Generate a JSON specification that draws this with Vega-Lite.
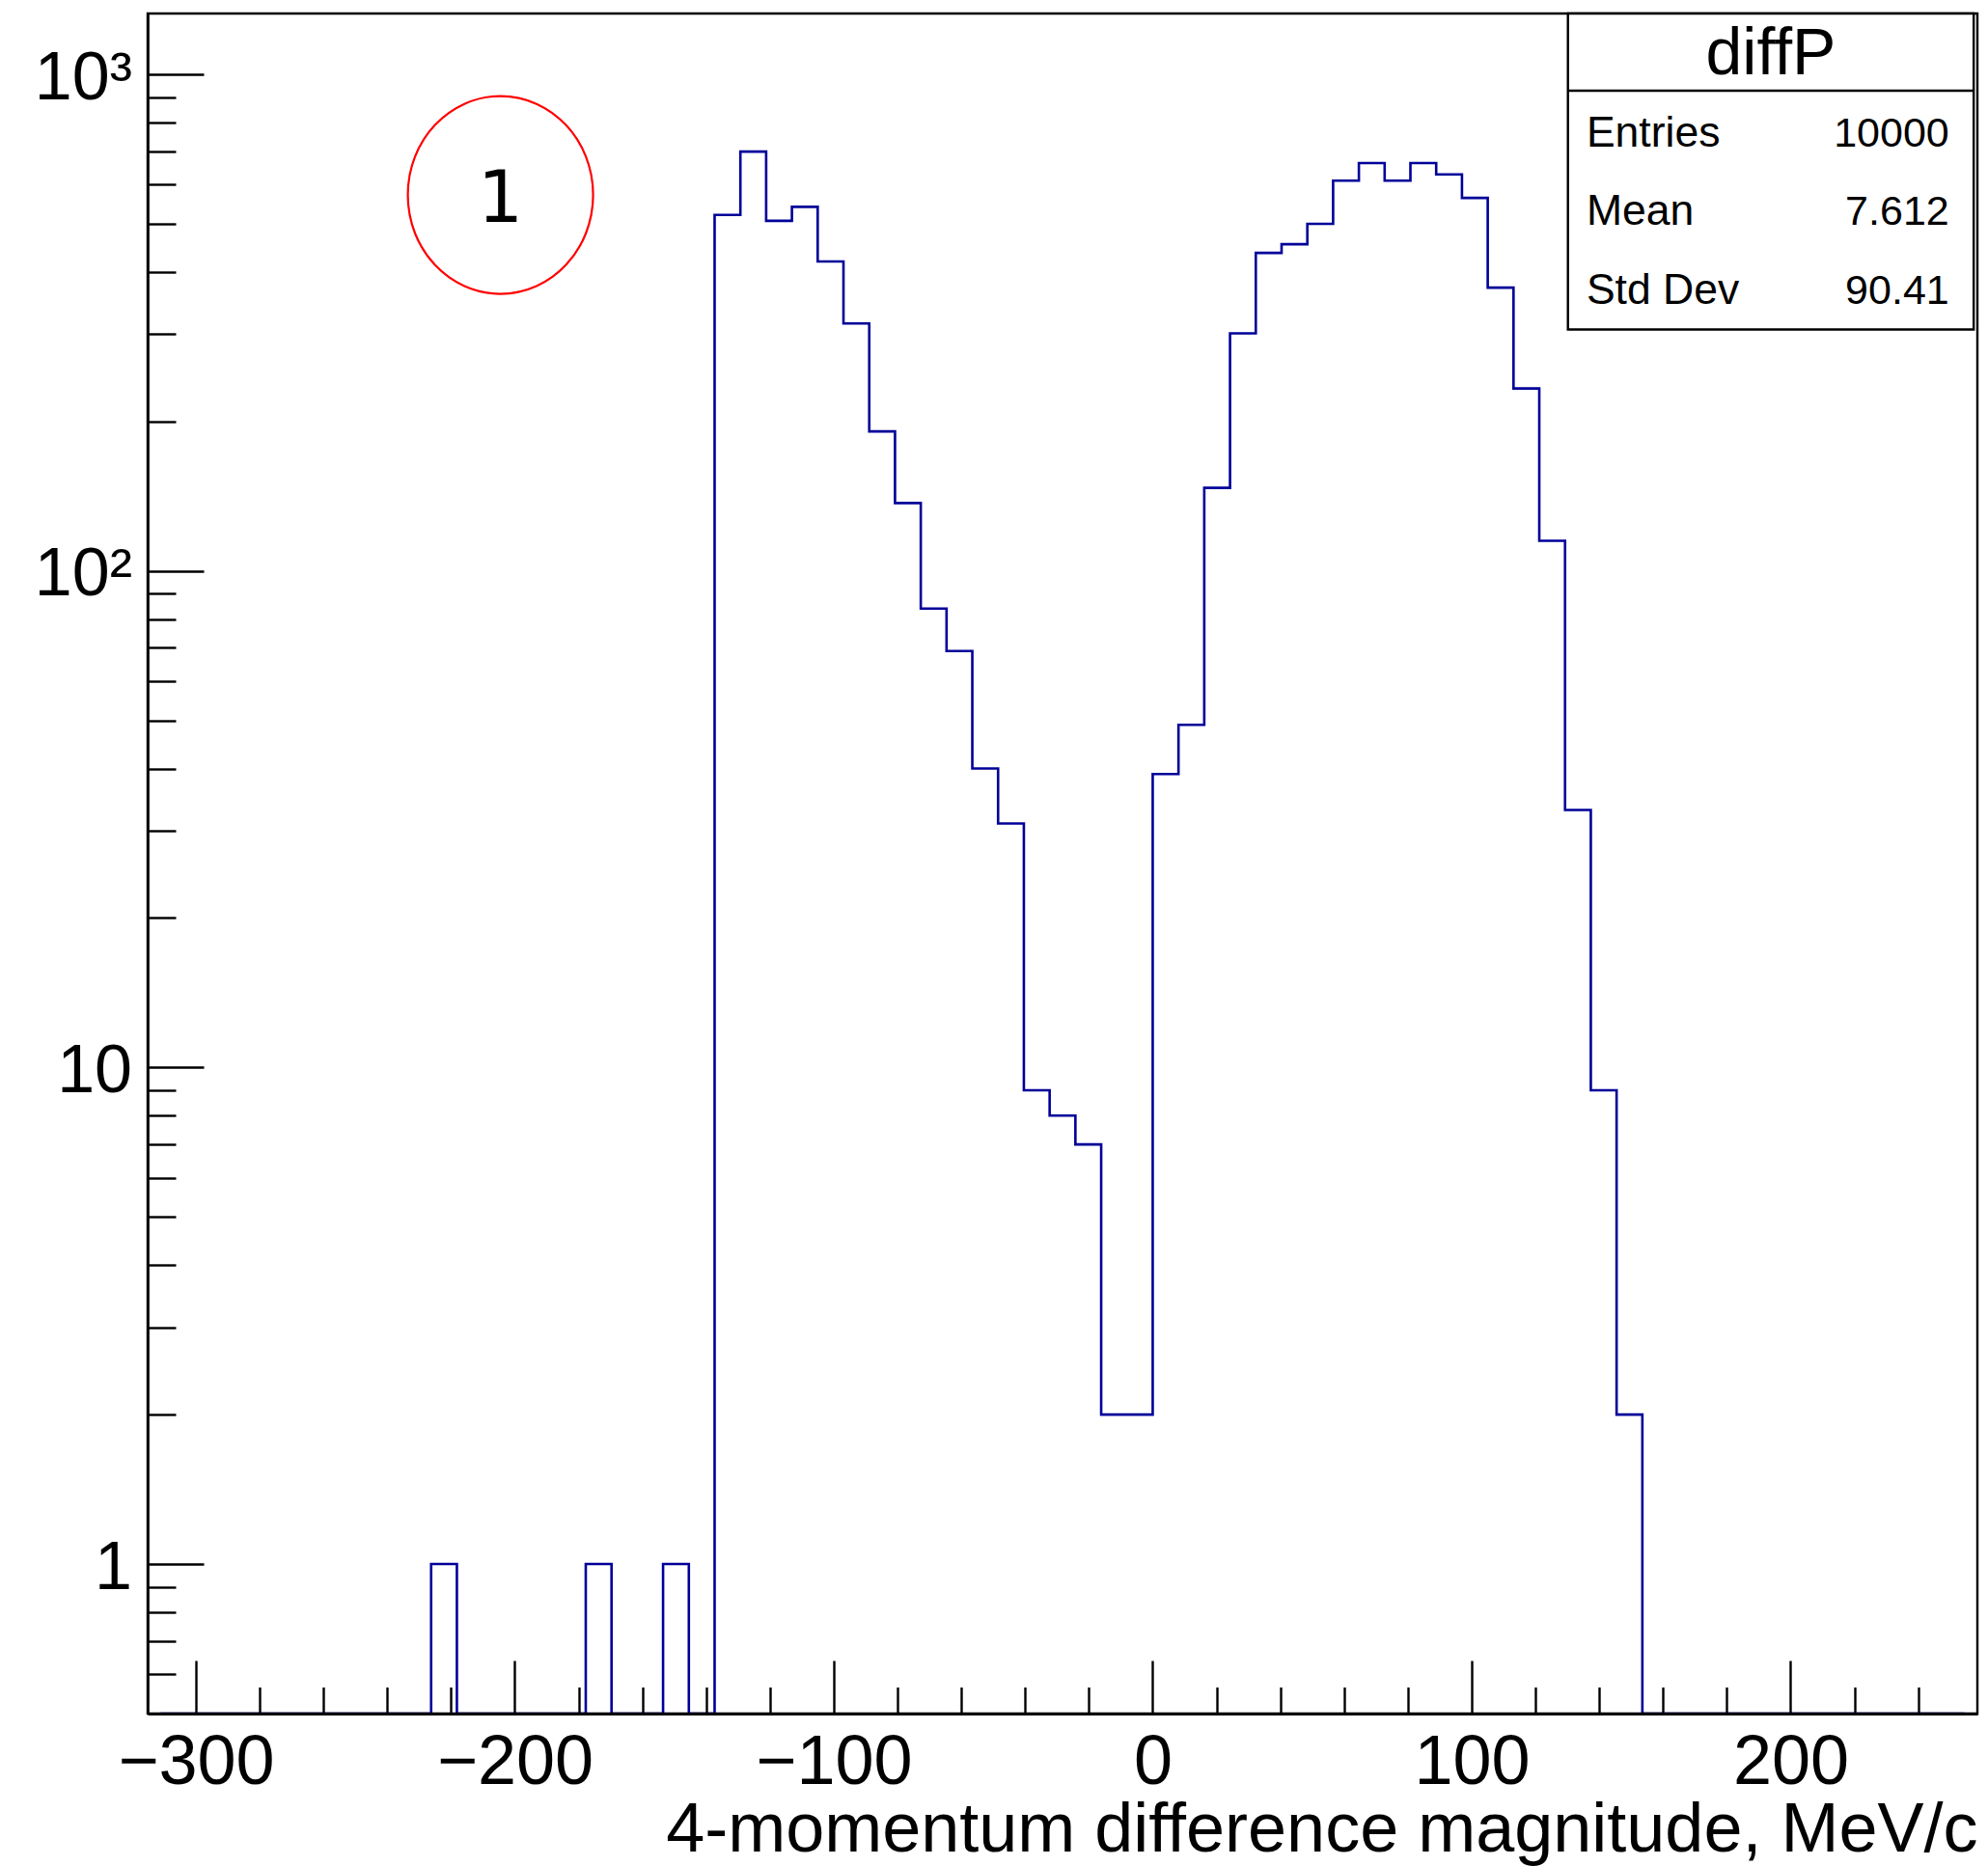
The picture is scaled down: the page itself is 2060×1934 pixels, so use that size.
{
  "$schema": "https://vega.github.io/schema/vega-lite/v6.json",
  "width": 1896,
  "height": 1762,
  "autosize": {"type": "none"},
  "padding": {"left": 153, "top": 14, "right": 11, "bottom": 158},
  "background": "white",
  "config": {
    "view": {"stroke": "black", "strokeWidth": 2.4, "fill": "white"},
    "axis": {"labelFont": "Liberation Sans", "titleFont": "Liberation Sans", "labelColor": "black", "titleColor": "black", "tickColor": "black", "domainColor": "black", "grid": false, "labelFlush": false, "labelOverlap": false, "labelBound": false},
    "text": {"font": "Liberation Sans", "color": "black"}
  },
  "datasets": {
    "bins": [
      {"x": -311.08, "count": 0}, {"x": -303.0, "count": 0}, {"x": -294.92, "count": 0}, {"x": -286.84, "count": 0},
      {"x": -278.76, "count": 0}, {"x": -270.68, "count": 0}, {"x": -262.6, "count": 0}, {"x": -254.52, "count": 0},
      {"x": -246.44, "count": 0}, {"x": -238.36, "count": 0}, {"x": -230.28, "count": 0}, {"x": -222.2, "count": 1},
      {"x": -214.12, "count": 0}, {"x": -206.04, "count": 0}, {"x": -197.96, "count": 0}, {"x": -189.88, "count": 0},
      {"x": -181.8, "count": 0}, {"x": -173.72, "count": 1}, {"x": -165.64, "count": 0}, {"x": -157.56, "count": 0},
      {"x": -149.48, "count": 1}, {"x": -141.4, "count": 0}, {"x": -133.32, "count": 521}, {"x": -125.24, "count": 699},
      {"x": -117.16, "count": 507}, {"x": -109.08, "count": 541}, {"x": -101.0, "count": 420}, {"x": -92.92, "count": 315},
      {"x": -84.84, "count": 191}, {"x": -76.76, "count": 137}, {"x": -68.68, "count": 84}, {"x": -60.6, "count": 69},
      {"x": -52.52, "count": 40}, {"x": -44.44, "count": 31}, {"x": -36.36, "count": 9}, {"x": -28.28, "count": 8},
      {"x": -20.2, "count": 7}, {"x": -12.12, "count": 2}, {"x": -4.04, "count": 2}, {"x": 4.04, "count": 39},
      {"x": 12.12, "count": 49}, {"x": 20.2, "count": 147}, {"x": 28.28, "count": 301}, {"x": 36.36, "count": 437},
      {"x": 44.44, "count": 455}, {"x": 52.52, "count": 500}, {"x": 60.6, "count": 611}, {"x": 68.68, "count": 663},
      {"x": 76.76, "count": 611}, {"x": 84.84, "count": 663}, {"x": 92.92, "count": 629}, {"x": 101.0, "count": 564},
      {"x": 109.08, "count": 372}, {"x": 117.16, "count": 233}, {"x": 125.24, "count": 115}, {"x": 133.32, "count": 33},
      {"x": 141.4, "count": 9}, {"x": 149.48, "count": 2}, {"x": 157.56, "count": 0}, {"x": 165.64, "count": 0},
      {"x": 173.72, "count": 0}, {"x": 181.8, "count": 0}, {"x": 189.88, "count": 0}, {"x": 197.96, "count": 0},
      {"x": 206.04, "count": 0}, {"x": 214.12, "count": 0}, {"x": 222.2, "count": 0}, {"x": 230.28, "count": 0},
      {"x": 238.36, "count": 0}, {"x": 246.44, "count": 0}, {"x": 254.52, "count": 0}
    ],
    "stats": [
      {"stat": "Entries", "value": "10000"},
      {"stat": "Mean", "value": "7.612"},
      {"stat": "Std Dev", "value": "90.41"}
    ],
    "boxtitle": [{"name": "diffP"}],
    "marker": [{"label": "1"}]
  },
  "resolve": {"scale": {"y": "independent"}, "axis": {"x": "independent", "y": "independent"}},
  "layer": [
    {
      "data": {"name": "bins"},
      "mark": {"type": "line", "interpolate": "step", "color": "#000099", "strokeWidth": 2.6, "invalid": "show", "clip": true},
      "encoding": {
        "x": {"field": "x", "type": "quantitative",
              "scale": {"domain": [-315.12, 258.56], "nice": false, "zero": false},
              "axis": {"orient": "bottom", "values": [-300, -200, -100, 0, 100, 200], "tickSize": -55, "tickWidth": 2.4, "domain": true, "domainWidth": 2.8, "labelFontSize": 72, "labelPadding": 70, "labelBaseline": "top", "title": "4-momentum difference magnitude, MeV/c", "titleFontSize": 72, "titleFontWeight": "normal", "titleAnchor": "end", "titleAlign": "right", "titleBaseline": "alphabetic", "titleY": 142, "zindex": 1}},
        "y": {"field": "count", "type": "quantitative",
              "scale": {"type": "log", "domain": [0.5, 1326], "nice": false, "clamp": true},
              "axis": {"orient": "left", "values": [1, 10, 100, 1000], "tickSize": -58, "tickWidth": 2.4, "domain": true, "domainWidth": 2.6, "labelFontSize": 70, "labelPadding": 74.5, "labelAlign": "right", "labelBaseline": "middle", "labelOffset": 4, "labelExpr": "datum.value == 1000 ? '10³' : datum.value == 100 ? '10²' : datum.value == 10 ? '10' : '1'", "title": null, "zindex": 1}}
      }
    },
    {
      "data": {"name": "marker"},
      "mark": {"type": "point", "shape": "M-1,0A1,1.0677,0,1,0,1,0A1,1.0677,0,1,0,-1,0Z", "size": 36864, "filled": false, "stroke": "#ff0000", "strokeWidth": 2.2, "opacity": 1},
      "encoding": {
        "x": {"datum": -204.5, "type": "quantitative",
              "scale": {"domain": [-315.12, 258.56], "nice": false, "zero": false},
              "axis": {"orient": "bottom", "values": [-280, -260, -240, -220, -180, -160, -140, -120, -80, -60, -40, -20, 20, 40, 60, 80, 120, 140, 160, 180, 220, 240], "tickSize": -27.5, "tickWidth": 2.4, "labels": false, "domain": false, "title": null, "zindex": 1}},
        "y": {"datum": 571.6, "type": "quantitative",
              "scale": {"type": "log", "domain": [0.5, 1326], "nice": false, "clamp": true},
              "axis": {"orient": "left", "values": [0.6, 0.7, 0.8, 0.9, 2, 3, 4, 5, 6, 7, 8, 9, 20, 30, 40, 50, 60, 70, 80, 90, 200, 300, 400, 500, 600, 700, 800, 900], "tickSize": -29, "tickWidth": 2.4, "labels": false, "domain": false, "title": null, "zindex": 1}}
      }
    },
    {
      "data": {"name": "marker"},
      "mark": {"type": "text", "font": "DejaVu Sans", "fontSize": 74, "dy": 28, "align": "center", "baseline": "alphabetic", "color": "black"},
      "encoding": {
        "x": {"datum": -204.5, "type": "quantitative", "scale": {"domain": [-315.12, 258.56], "nice": false, "zero": false}, "axis": null},
        "y": {"datum": 571.6, "type": "quantitative", "scale": {"type": "log", "domain": [0.5, 1326], "nice": false, "clamp": true}, "axis": null},
        "text": {"field": "label"}
      }
    },
    {
      "data": {"name": "boxtitle"},
      "mark": {"type": "rect", "fill": "white", "stroke": "black", "strokeWidth": 2.4},
      "encoding": {
        "x": {"datum": 130.18, "type": "quantitative", "scale": {"domain": [-315.12, 258.56], "nice": false, "zero": false}, "axis": null},
        "x2": {"datum": 257.4},
        "y": {"datum": 1326, "type": "quantitative", "scale": {"type": "log", "domain": [0.5, 1326], "nice": false, "clamp": true}, "axis": null},
        "y2": {"datum": 306.4}
      }
    },
    {
      "data": {"name": "boxtitle"},
      "mark": {"type": "rule", "color": "black", "strokeWidth": 2.4},
      "encoding": {
        "x": {"datum": 130.18, "type": "quantitative", "scale": {"domain": [-315.12, 258.56], "nice": false, "zero": false}, "axis": null},
        "x2": {"datum": 257.4},
        "y": {"datum": 926.8, "type": "quantitative", "scale": {"type": "log", "domain": [0.5, 1326], "nice": false, "clamp": true}, "axis": null}
      }
    },
    {
      "data": {"name": "boxtitle"},
      "mark": {"type": "text", "fontSize": 68, "align": "center", "baseline": "alphabetic"},
      "encoding": {
        "x": {"datum": 193.8, "type": "quantitative", "scale": {"domain": [-315.12, 258.56], "nice": false, "zero": false}, "axis": null},
        "y": {"datum": 1000, "type": "quantitative", "scale": {"type": "log", "domain": [0.5, 1326], "nice": false, "clamp": true}, "axis": null},
        "text": {"field": "name"}
      }
    },
    {
      "data": {"name": "stats"},
      "mark": {"type": "text", "fontSize": 44.5, "align": "left", "baseline": "alphabetic"},
      "encoding": {
        "x": {"datum": 136.0, "type": "quantitative", "scale": {"domain": [-315.12, 258.56], "nice": false, "zero": false}, "axis": null},
        "y": {"field": "stat", "type": "ordinal", "scale": {"type": "point", "domain": ["Entries", "Mean", "Std Dev"], "range": [137.7, 301], "padding": 0}, "axis": null},
        "text": {"field": "stat"}
      }
    },
    {
      "data": {"name": "stats"},
      "mark": {"type": "text", "fontSize": 43, "align": "right", "baseline": "alphabetic"},
      "encoding": {
        "x": {"datum": 249.7, "type": "quantitative", "scale": {"domain": [-315.12, 258.56], "nice": false, "zero": false}, "axis": null},
        "y": {"field": "stat", "type": "ordinal", "scale": {"type": "point", "domain": ["Entries", "Mean", "Std Dev"], "range": [137.7, 301], "padding": 0}, "axis": null},
        "text": {"field": "value"}
      }
    }
  ]
}
